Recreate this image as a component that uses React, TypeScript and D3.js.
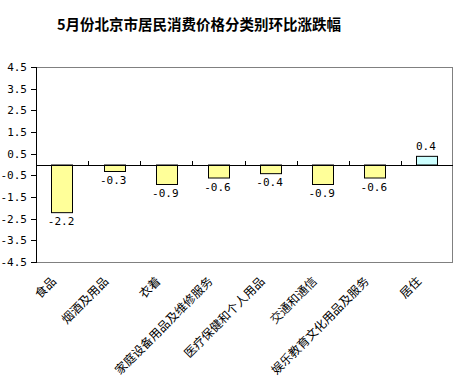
import React from "react";
import * as d3 from "d3";

const categories = ["食品", "烟酒及用品", "衣着", "家庭设备用品及维修服务", "医疗保健和个人用品", "交通和通信", "娱乐教育文化用品及服务", "居住"];
const values = [-2.2, -0.3, -0.9, -0.6, -0.4, -0.9, -0.6, 0.4];
const yTicks = [4.5, 3.5, 2.5, 1.5, 0.5, -0.5, -1.5, -2.5, -3.5, -4.5];
const title = "5月份北京市居民消费价格分类别环比涨跌幅";

export default function App() {
  const W = 461, H = 387;
  const left = 36, right = 453, top = 67, bottom = 262;
  const x = d3.scaleBand<string>().domain(categories).range([left, right]).paddingInner(0).paddingOuter(0);
  const y = d3.scaleLinear().domain([-4.5, 4.5]).range([bottom, top]);
  const bw = x.bandwidth();
  const barW = bw * 0.41;
  const numFont = "'DejaVu Sans Mono', monospace";
  const cjk = "'Noto Sans CJK SC', sans-serif";
  return (
    <svg width={W} height={H} style={{ position: "absolute", left: 0, top: 0, background: "#fff" }}>
      <text x={57} y={30} fontFamily={cjk} fontWeight="bold" fontSize={14.5} fill="#000">{title}</text>
      {/* frame */}
      <line x1={left} x2={right} y1={top + 0.5} y2={top + 0.5} stroke="#808080" />
      <line x1={right - 0.5} x2={right - 0.5} y1={top} y2={bottom} stroke="#808080" />
      <line x1={left} x2={right} y1={bottom + 0.5} y2={bottom + 0.5} stroke="#808080" />
      {/* bars */}
      {values.map((v, i) => {
        const cx = x(categories[i])! + bw / 2;
        const y0 = y(0), y1 = y(v);
        return (
          <rect key={i} x={Math.round(cx - barW / 2) + 0.5} y={Math.min(y0, y1) + 0.5} width={Math.round(barW)} height={Math.abs(y1 - y0)}
            fill={v >= 0 ? "#CCFFFF" : "#FFFF99"} stroke="#000" strokeWidth={1} />
        );
      })}
      {/* zero line */}
      <line x1={left} x2={right} y1={Math.round(y(0)) + 0.5} y2={Math.round(y(0)) + 0.5} stroke="#000" />
      {categories.slice(1).map((c) => {
        const xx = Math.round(x(c)!) + 0.5;
        return <line key={c} x1={xx} x2={xx} y1={Math.round(y(0)) + 0.5} y2={Math.round(y(0)) - 4} stroke="#000" />;
      })}
      {/* y axis */}
      <line x1={left + 0.5} x2={left + 0.5} y1={top} y2={bottom + 1} stroke="#000" />
      {yTicks.map((t) => (
        <g key={t}>
          <line x1={left - 5} x2={left} y1={Math.round(y(t)) + 0.5} y2={Math.round(y(t)) + 0.5} stroke="#000" />
          <text x={27} y={y(t) + 4} textAnchor="end" fontFamily={numFont} fontSize={11} fill="#000">{t.toFixed(1)}</text>
        </g>
      ))}
      {/* value labels */}
      {values.map((v, i) => {
        const cx = x(categories[i])! + bw / 2 - 1;
        const yy = v >= 0 ? y(v) - 6 : y(v) + 13;
        return <text key={i} x={cx} y={yy} textAnchor="middle" fontFamily={numFont} fontSize={11} fill="#000">{v.toFixed(1)}</text>;
      })}
      {/* category labels */}
      {categories.map((c) => {
        const cx = x(c)! + bw / 2 - 5;
        const cy = 282;
        return (
          <text key={c} x={cx} y={cy} transform={`rotate(-45 ${cx} ${cy})`} textAnchor="end" fontFamily={cjk} fontSize={12} fill="#000">{c}</text>
        );
      })}
    </svg>
  );
}
